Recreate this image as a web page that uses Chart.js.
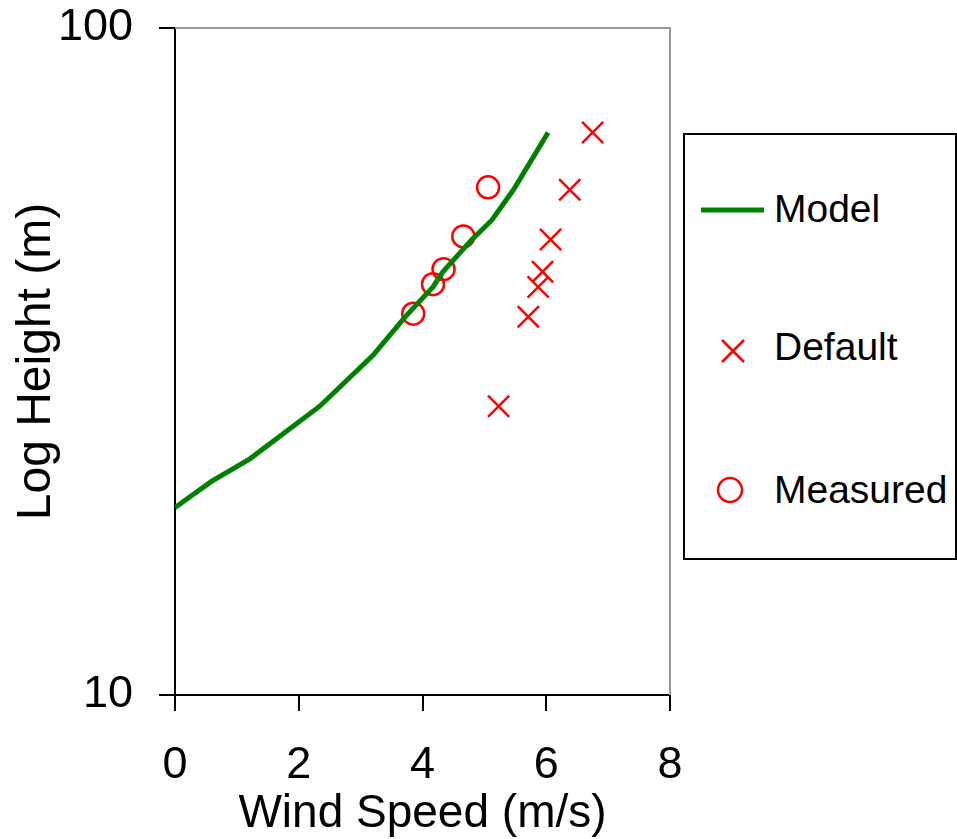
<!DOCTYPE html>
<html>
<head>
<meta charset="utf-8">
<script src="https://cdn.jsdelivr.net/npm/chart.js@4"></script>
<style>
  body { margin: 0; background: #fff; }
  #wrap { position: relative; width: 957px; height: 839px; font-family: "Liberation Sans", Arial, sans-serif; }
  #legend { position: absolute; left: 683px; top: 133px; width: 274px; height: 427px;
            box-sizing: border-box; border: 2px solid #000; background: #fff; }
  .lbl { position: absolute; left: 89px; font-size: 39px; line-height: 39px; color: #000; white-space: nowrap; }
  .mk { position: absolute; }
</style>
</head>
<body>
<div id="wrap">
  <canvas id="chart" width="957" height="839"></canvas>
  <div id="legend">
    <svg class="mk" style="left:16px;top:70px" width="64" height="10"><line x1="0" y1="5" x2="63" y2="5" stroke="#008000" stroke-width="5"/></svg>
    <span class="lbl" style="top:54px">Model</span>
    <svg class="mk" style="left:34px;top:202px" width="28" height="28"><path d="M3 3 L25 25 M25 3 L3 25" stroke="#ff0000" stroke-width="2.5" fill="none"/></svg>
    <span class="lbl" style="top:192px">Default</span>
    <svg class="mk" style="left:30px;top:340px" width="30" height="30"><circle cx="15" cy="15" r="12" stroke="#ff0000" stroke-width="2.5" fill="none"/></svg>
    <span class="lbl" style="top:335px">Measured</span>
  </div>
</div>
<script>
    // values
    var modelSpeed = [0, 0.59, 1.21, 2.34, 3.20, 3.72, 4.17, 4.33, 4.80, 5.12, 5.47, 6.03];
    var modelHeight = [19.1, 20.9, 22.6, 27.1, 32.3, 36.9, 40.9, 43.1, 48.2, 51.5, 57.2, 69.7];
    var defaultSpeed = [5.23, 5.71, 5.87, 5.94, 6.07, 6.38, 6.75];
    var defaultHeight = [27.1, 36.9, 40.9, 43.1, 48.2, 57.2, 69.7];
    var measuredSpeed = [3.85, 4.17, 4.34, 4.66, 5.06];
    var measuredHeight = [37.3, 41.3, 43.5, 48.7, 57.7];
    var xTicks = [0, 2, 4, 6, 8];
    var yTicks = [10, 100];

    var FONT = '"Liberation Sans", Arial, sans-serif';

    function pts(xs, ys) {
        return xs.map(function (x, i) { return {x: x, y: ys[i]}; });
    }

    var plotFrame = {
        id: 'plotFrame',
        beforeDatasetsDraw: function (chart) {
            var a = chart.chartArea, ctx = chart.ctx;
            ctx.save();
            ctx.strokeStyle = '#999999';
            ctx.lineWidth = 2;
            ctx.beginPath();
            ctx.moveTo(a.left, a.top);
            ctx.lineTo(a.right, a.top);
            ctx.lineTo(a.right, a.bottom);
            ctx.stroke();
            ctx.restore();
        }
    };

    new Chart(document.getElementById('chart'), {
        type: 'scatter',
        data: {
            datasets: [{
                label: 'Model',
                data: pts(modelSpeed, modelHeight),
                showLine: true,
                borderColor: '#008000',
                borderWidth: 5,
                pointRadius: 0,
                tension: 0
            }, {
                label: 'Default',
                data: pts(defaultSpeed, defaultHeight),
                pointStyle: 'crossRot',
                pointRadius: 15,
                borderColor: '#ff0000',
                borderWidth: 2.5
            }, {
                label: 'Measured',
                data: pts(measuredSpeed, measuredHeight),
                pointStyle: 'circle',
                pointRadius: 11,
                borderColor: '#ff0000',
                backgroundColor: 'rgba(0,0,0,0)',
                borderWidth: 2.5
            }]
        },
        options: {
            responsive: false,
            animation: false,
            layout: {padding: {left: 0, top: 28, right: 287, bottom: 0}},
            plugins: {legend: {display: false}, tooltip: {enabled: false}},
            scales: {
                x: {
                    type: 'linear',
                    min: 0, max: 8,
                    afterBuildTicks: function (s) { s.ticks = xTicks.map(function (v) { return {value: v}; }); },
                    afterFit: function (s) { s.height = 144; },
                    grid: {drawOnChartArea: false, color: '#000', lineWidth: 2, tickLength: 16},
                    border: {color: '#000', width: 2},
                    ticks: {color: '#000', padding: 28, font: {family: FONT, size: 45}, maxRotation: 0},
                    title: {display: true, text: 'Wind Speed (m/s)', color: '#000',
                            font: {family: FONT, size: 46, lineHeight: '50px'}, padding: {top: 0, bottom: 0}}
                },
                y: {
                    type: 'logarithmic',
                    min: 10, max: 100,
                    afterBuildTicks: function (s) { s.ticks = yTicks.map(function (v) { return {value: v}; }); },
                    afterFit: function (s) { s.width = 175; s.paddingTop = 0; s.paddingBottom = 0; },
                    grid: {drawOnChartArea: false, color: '#000', lineWidth: 2, tickLength: 16},
                    border: {color: '#000', width: 2},
                    ticks: {color: '#000', padding: 26, font: {family: FONT, size: 45},
                            callback: function (v) { return String(v); }},
                    title: {display: true, text: 'Log Height (m)', color: '#000',
                            font: {family: FONT, size: 48, lineHeight: 1.2}, padding: {top: 8, bottom: 0}}
                }
            }
        },
        plugins: [plotFrame]
    });
</script>
</body>
</html>
